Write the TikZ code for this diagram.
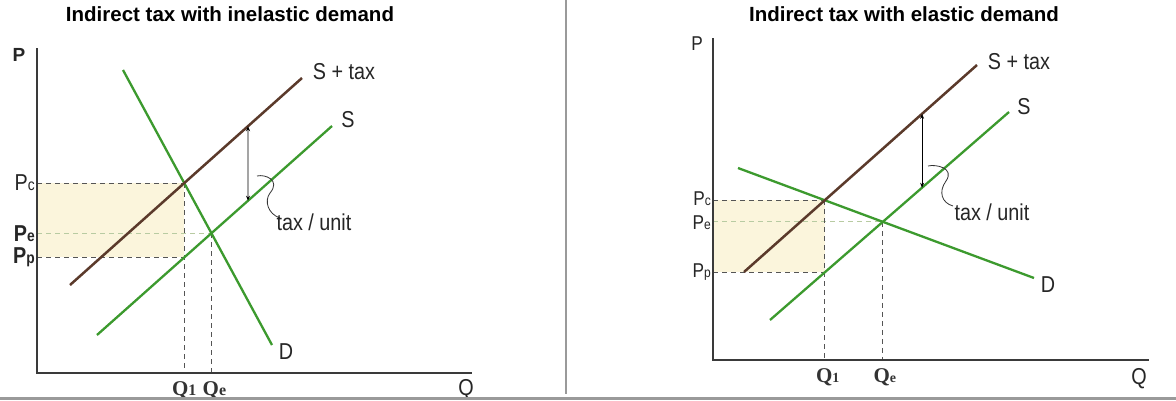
\documentclass[tikz,border=0pt]{standalone}
\usepackage{fontspec}
\setmainfont{Liberation Sans}
\newfontfamily\nar[FakeStretch=0.86]{Liberation Sans}
\newfontfamily\qser{Liberation Serif}
\usetikzlibrary{arrows.meta}
\definecolor{grn}{HTML}{3C9A2E}
\definecolor{brn}{HTML}{5B3A2B}
\definecolor{axc}{HTML}{3A3A3A}
\definecolor{shd}{HTML}{FBF5DC}
\definecolor{pedash}{HTML}{B8CBA2}
\definecolor{sepc}{HTML}{9A9A9A}
\definecolor{guidec}{HTML}{555555}
\newcommand\lsub[1]{{\fontsize{16}{16}\selectfont #1}}
\newcommand\rsub[1]{{\fontsize{14}{14}\selectfont #1}}
\begin{document}
\begin{tikzpicture}[x=1pt,y=-1pt,
 curve/.style={line width=2.3pt, grn},
 taxcurve/.style={line width=2.5pt, brn},
 axisline/.style={line width=2.4pt, axc},
 guide/.style={line width=0.9pt, dash pattern=on 5pt off 4pt, guidec},
 guidee/.style={line width=0.9pt, dash pattern=on 5pt off 4pt, pedash},
 lbl/.style={font=\nar\fontsize{23}{25}\selectfont, inner sep=0pt, text=black!85},
 plbl/.style={font=\nar\fontsize{23}{25}\selectfont, inner sep=0pt, text=black!85, anchor=east},
 rplbl/.style={font=\nar\fontsize{20}{22}\selectfont, inner sep=0pt, text=black!85, anchor=east},
 qlbl/.style={font=\qser\bfseries\fontsize{21}{23}\selectfont, inner sep=0pt, text=black!80},
 ttl/.style={font=\bfseries\fontsize{20.5}{22}\selectfont, inner sep=0pt},
 taxarrow/.style={line width=0.8pt, {Stealth[length=5pt,width=4pt]}-{Stealth[length=5pt,width=4pt]}},
 squig/.style={line width=0.8pt, black!80}
]
\useasboundingbox (0,0) rectangle (1176,400);
\fill[white] (0,0) rectangle (1176,400);

% ---------- LEFT PANEL ----------
\coordinate (LO) at (37,373);
\coordinate (LDa) at (123,70);  \coordinate (LDb) at (272,345);
\coordinate (LTa) at (70,285);  \coordinate (LTb) at (302,78);
\coordinate (LSa) at (97,335);  \coordinate (LSb) at (332,126);
\coordinate (Lc) at (intersection of LDa--LDb and LTa--LTb);
\coordinate (Le) at (intersection of LDa--LDb and LSa--LSb);
\coordinate (Lcb) at (Lc |- LO);
\coordinate (Lp) at (intersection of Lc--Lcb and LSa--LSb);
\coordinate (Lv1) at (248,0); \coordinate (Lv2) at (248,400);
\coordinate (LAt) at (intersection of Lv1--Lv2 and LTa--LTb);
\coordinate (LAb) at (intersection of Lv1--Lv2 and LSa--LSb);

\fill[shd] (LO|-Lc) rectangle (Lp);
\draw[guide] (LO|-Lc) -- (Lc);
\draw[guidee] (LO|-Le) -- (Le);
\draw[guide] (LO|-Lp) -- (Lp);
\draw[guide] (Lc) -- (Lc|-LO);
\draw[guide] (Le) -- (Le|-LO);

\draw[curve] (LDa) -- (LDb);
\draw[curve] (LSa) -- (LSb);
\draw[taxcurve] (LTa) -- (LTb);
\draw[taxarrow] (LAt) -- (LAb);
\draw[squig] (257,176) .. controls (265,174) and (281,180) .. (270,193)
  .. controls (264,201) and (268,214) .. (280,218);

\draw[axisline] (37,48) -- (LO) -- (472,373);

\node[ttl] (Lttl) at (230,14) {Indirect tax with inelastic demand};
\node[lbl, font=\bfseries\fontsize{19}{21}\selectfont] (LP) at (19,55) {P};
\node[lbl] (LQ) at (466,390) {Q};
\node[plbl] (LPc) at ([xshift=-2pt]LO|-Lc) {P\lsub{c}};
\node[plbl, font=\nar\bfseries\fontsize{23}{25}\selectfont] (LPe) at ([xshift=-2pt]LO|-Le) {P\lsub{e}};
\node[plbl, font=\nar\bfseries\fontsize{23}{25}\selectfont] (LPp) at ([xshift=-2pt]LO|-Lp) {P\lsub{p}};
\node[qlbl] (LQ1) at ([yshift=-17pt]Lc|-LO) {Q\lsub{1}};
\node[qlbl] (LQe) at ([xshift=3pt,yshift=-17pt]Le|-LO) {Q\lsub{e}};
\node[lbl] (LStl) at (344,72) {S + tax};
\node[lbl] (LSl) at (348,120) {S};
\node[lbl] (LDl) at (286,352) {D};
\node[lbl] (Ltax) at (314,222) {tax / unit};

% ---------- RIGHT PANEL ----------
\coordinate (RO) at (713,360);
\coordinate (RDa) at (738,168);  \coordinate (RDb) at (1034,278);
\coordinate (RTa) at (744,272);  \coordinate (RTb) at (977,65);
\coordinate (RSa) at (770,320);  \coordinate (RSb) at (1009,112);
\coordinate (Rc) at (intersection of RDa--RDb and RTa--RTb);
\coordinate (Re) at (intersection of RDa--RDb and RSa--RSb);
\coordinate (Rcb) at (Rc |- RO);
\coordinate (Rp) at (intersection of Rc--Rcb and RSa--RSb);
\coordinate (Rv1) at (922,0); \coordinate (Rv2) at (922,400);
\coordinate (RAt) at (intersection of Rv1--Rv2 and RTa--RTb);
\coordinate (RAb) at (intersection of Rv1--Rv2 and RSa--RSb);

\fill[shd] (RO|-Rc) rectangle (Rp);
\draw[guide] (RO|-Rc) -- (Rc);
\draw[guidee] (RO|-Re) -- (Re);
\draw[guide] (RO|-Rp) -- (Rp);
\draw[guide] (Rc) -- (Rc|-RO);
\draw[guide] (Re) -- (Re|-RO);

\draw[curve] (RDa) -- (RDb);
\draw[curve] (RSa) -- (RSb);
\draw[taxcurve] (RTa) -- (RTb);
\draw[taxarrow] (RAt) -- (RAb);
\draw[squig] (928,166) .. controls (936,164) and (955,168) .. (946,181)
  .. controls (938,192) and (942,203) .. (953,206);

\draw[axisline] (713,38) -- (RO) -- (1149,360);

\node[ttl] (Rttl) at (904,14) {Indirect tax with elastic demand};
\node[lbl, font=\nar\fontsize{20}{22}\selectfont] (RP) at (697,44) {P};
\node[lbl] (RQ) at (1139,379) {Q};
\node[rplbl] (RPc) at ([xshift=-2pt,yshift=2pt]RO|-Rc) {P\rsub{c}};
\node[rplbl] (RPe) at ([xshift=-2pt,yshift=-1pt]RO|-Re) {P\rsub{e}};
\node[rplbl] (RPp) at ([xshift=-2pt]RO|-Rp) {P\rsub{p}};
\node[qlbl] (RQ1) at ([xshift=3pt,yshift=-17pt]Rc|-RO) {Q\rsub{1}};
\node[qlbl] (RQe) at ([xshift=2pt,yshift=-17pt]Re|-RO) {Q\rsub{e}};
\node[lbl] (RStl) at (1019,62) {S + tax};
\node[lbl] (RSl) at (1024,107) {S};
\node[lbl] (RDl) at (1048,285) {D};
\node[lbl] (Rtax) at (992,212) {tax / unit};

% ---------- separators ----------
\draw[sepc, line width=1.2pt] (566,0) -- (566,394);
\draw[sepc, line width=3pt] (0,398) -- (1176,398);
\end{tikzpicture}
\end{document}
